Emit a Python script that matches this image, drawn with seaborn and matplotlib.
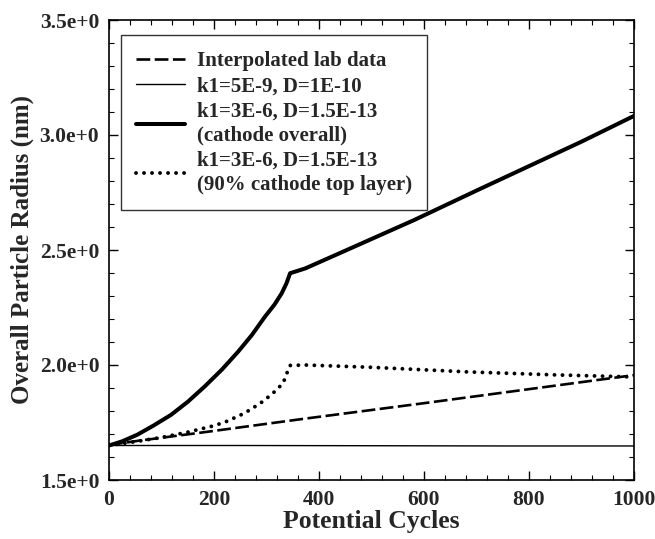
import matplotlib
matplotlib.use("Agg")
import matplotlib.pyplot as plt
import seaborn as sns
import pandas as pd
from matplotlib.ticker import MultipleLocator, FormatStrFormatter

# Data
lab_x = [0, 54, 182, 374, 600, 800, 1000]
lab_y = [1.652, 1.670, 1.708, 1.767, 1.834, 1.895, 1.956]

slow_x = [0, 250, 500, 750, 1000]
slow_y = [1.650, 1.650, 1.649, 1.648, 1.648]

overall_x = [0, 25, 54, 85, 118, 150, 182, 215, 246, 272, 297, 315, 329, 338, 345,
             374, 453, 581, 709, 805, 900, 1000]
overall_y = [1.650, 1.668, 1.697, 1.737, 1.783, 1.840, 1.906, 1.980, 2.058, 2.130, 2.210, 2.262,
             2.312, 2.355, 2.399, 2.420, 2.500, 2.630, 2.768, 2.870, 2.971, 3.083]

top_x = [0, 54, 100, 150, 200, 213, 228, 243, 258, 273, 288, 303, 319, 332, 338, 345,
         374, 500, 683, 850, 1000]
top_y = [1.650, 1.668, 1.685, 1.708, 1.736, 1.746, 1.758, 1.775, 1.790, 1.812, 1.833, 1.860,
         1.891, 1.923, 1.960, 1.998, 2.000, 1.990, 1.970, 1.957, 1.948]

labels = ["Interpolated lab data", "k1=5E-9, D=1E-10",
          "k1=3E-6, D=1.5E-13\n(cathode overall)",
          "k1=3E-6, D=1.5E-13\n(90% cathode top layer)"]

sns.set_theme(style="ticks")
plt.rcParams['font.family'] = ['Liberation Serif', 'DejaVu Serif']
plt.rcParams['font.weight'] = 'bold'

fig = plt.figure(figsize=(6.55, 5.39), dpi=100)
L, R, T, B = 109, 634, 20, 480
ax = fig.add_axes([L/655, 1 - B/539, (R-L)/655, (B-T)/539])

series = [(lab_x, lab_y), (slow_x, slow_y), (overall_x, overall_y), (top_x, top_y)]
styles = [dict(lw=1.9, dashes=(5.2, 1.7)),
          dict(lw=1.0),
          dict(lw=2.9),
          dict(lw=2.8, dashes=(0.01, 2.05))]
for (xs, ys), lab, st in zip(series, labels, styles):
    df = pd.DataFrame({"x": xs, "y": ys})
    sns.lineplot(data=df, x="x", y="y", ax=ax, color="black", label=lab, **st)

lines = ax.get_lines()
lines[3].set_dash_capstyle('round')

ax.set_xlim(0, 1000)
ax.set_ylim(1.5, 3.5)
ax.xaxis.set_major_locator(MultipleLocator(200))
ax.xaxis.set_minor_locator(MultipleLocator(40))
ax.yaxis.set_major_locator(MultipleLocator(0.5))
ax.yaxis.set_minor_locator(MultipleLocator(0.1))
ax.yaxis.set_major_formatter(FormatStrFormatter('%.1fe+0'))
ax.tick_params(which='both', direction='in', top=True, right=True, color='black')
ax.tick_params(which='major', length=6.5, width=1)
ax.tick_params(which='minor', length=3.5, width=0.8)
ax.tick_params(axis='both', labelsize=15.5, pad=7)
for lbl in ax.get_xticklabels() + ax.get_yticklabels():
    lbl.set_fontweight('bold')
for sp in ax.spines.values():
    sp.set_linewidth(1.2)
    sp.set_color('black')

ax.set_xlabel("Potential Cycles", fontsize=18.5, fontweight='bold', labelpad=0)
ax.set_ylabel("Overall Particle Radius (nm)", fontsize=18, fontweight='bold', labelpad=4)

leg = ax.legend(loc='upper left', bbox_to_anchor=(0.022, 0.967), borderaxespad=0,
                frameon=True, fancybox=False, edgecolor='black',
                handlelength=2.35, borderpad=0.75, labelspacing=0.26, handletextpad=0.55,
                prop={'weight': 'bold', 'size': 15, 'family': ['Liberation Serif']})
for t in leg.get_texts():
    t.set_linespacing(1.25)
leg.get_frame().set_linewidth(1.0)

fig.savefig("out.png", dpi=100)
